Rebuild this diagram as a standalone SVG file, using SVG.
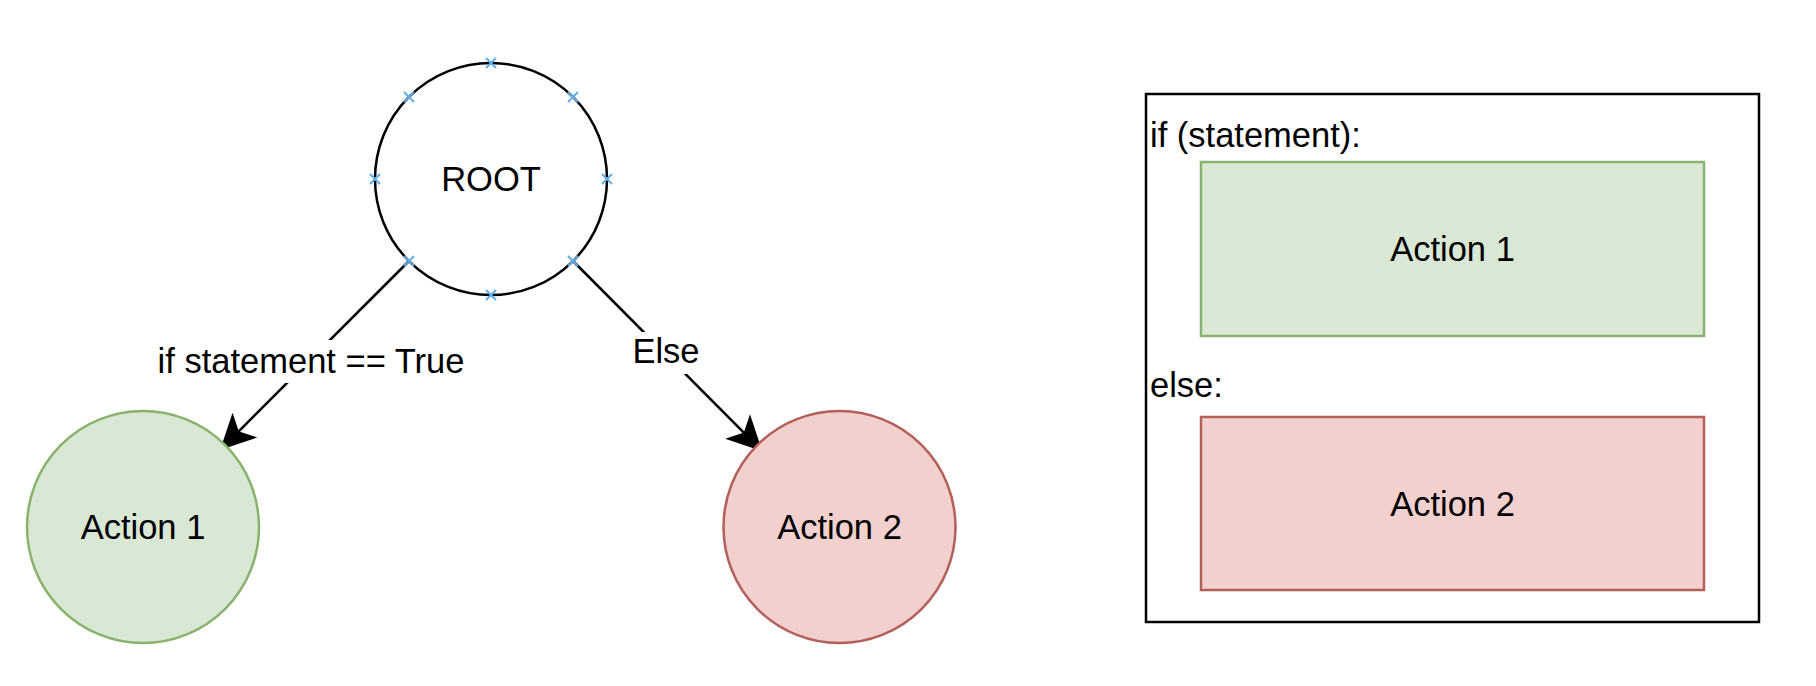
<svg xmlns="http://www.w3.org/2000/svg" width="1816" height="686" viewBox="0 0 1816 686">
  <style>
    .t{font-family:"Liberation Sans",Arial,Helvetica,sans-serif;font-size:34.5px;fill:#000}
    .c{text-anchor:middle}
    .edge{stroke:#000;stroke-width:2.5;fill:none}
    .green{fill:#d9e7d5;stroke:#89b36d;stroke-width:2.5}
    .red{fill:#f2d0ce;stroke:#b35f5a;stroke-width:2.5}
    .pt{stroke:#62aee6;stroke-width:2;fill:none}
  </style>
  <defs>
    <marker id="arr" markerUnits="userSpaceOnUse" markerWidth="40" markerHeight="40" viewBox="-10 -15 30 30" refX="0" refY="0" orient="auto" overflow="visible">
      <path d="M18,0 L-6,-12 L0,0 L-6,12 Z" fill="#000" stroke="#000" stroke-width="1"/>
    </marker>
    <path id="x" d="M-5,-5 L5,5 M-5,5 L5,-5"/>
  </defs>
  <rect width="1816" height="686" fill="#fff"/>

  <g id="connectors">
    <line class="edge" x1="409" y1="261" x2="238.2" y2="431.8" marker-end="url(#arr)"/>
    <line class="edge" x1="573" y1="261" x2="744.3" y2="433.2" marker-end="url(#arr)"/>
    <g id="label-true">
      <rect x="156" y="340" width="311" height="43" fill="#fff"/>
      <text class="t c" x="311" y="373">if statement == True</text>
    </g>
    <g id="label-else">
      <rect x="632" y="332" width="68" height="42" fill="#fff"/>
      <text class="t c" x="666" y="363">Else</text>
    </g>
  </g>

  <g id="root">
    <circle cx="491" cy="179" r="116" fill="#fff" stroke="#000" stroke-width="2.5"/>
    <text class="t c" x="491" y="191">ROOT</text>
    <g class="pt">
      <use href="#x" x="491" y="63"/>
      <use href="#x" x="491" y="295"/>
      <use href="#x" x="375" y="179"/>
      <use href="#x" x="607" y="179"/>
      <use href="#x" x="409" y="97"/>
      <use href="#x" x="573" y="97"/>
      <use href="#x" x="409" y="261"/>
      <use href="#x" x="573" y="261"/>
    </g>
  </g>

  <g id="action1-circle">
    <circle class="green" cx="143" cy="527" r="116"/>
    <text class="t c" x="143" y="539">Action 1</text>
  </g>

  <g id="action2-circle">
    <circle class="red" cx="839.5" cy="527" r="116"/>
    <text class="t c" x="839.5" y="539">Action 2</text>
  </g>

  <g id="code-box">
    <rect x="1146" y="94" width="613" height="528" fill="#fff" stroke="#000" stroke-width="2.5"/>
    <text class="t" x="1150" y="147">if (statement):</text>
    <text class="t" x="1150" y="397">else:</text>
  </g>

  <g id="action1-rect">
    <rect class="green" x="1201" y="162" width="503" height="174"/>
    <text class="t c" x="1452.5" y="261">Action 1</text>
  </g>

  <g id="action2-rect">
    <rect class="red" x="1201" y="417" width="503" height="173"/>
    <text class="t c" x="1452.5" y="516">Action 2</text>
  </g>
</svg>
